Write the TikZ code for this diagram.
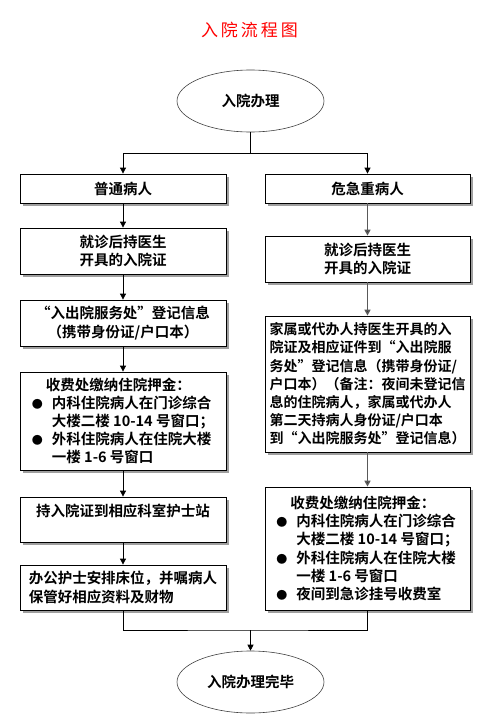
\documentclass[tikz,border=0pt]{standalone}
\usepackage{fontspec}
\setmainfont{Noto Sans CJK SC}[BoldFont={* Bold}]
\newfontfamily\titlefont{Noto Sans CJK SC}
\usetikzlibrary{arrows.meta,shapes.geometric,shadows}
\newcommand{\bdot}{\makebox[20pt][l]{\fontsize{11}{11}\selectfont●}}
\newcommand{\bgap}{\hspace*{20pt}}
\begin{document}
\begin{tikzpicture}[x=1pt,y=-1pt,
  every node/.style={font=\fontsize{14.5}{18.2}\selectfont\bfseries},
  box/.style={draw, line width=0.8pt, fill=white, minimum width=206, inner sep=0pt,
    drop shadow={shadow xshift=3pt, shadow yshift=-3pt, fill=gray!75, opacity=1}},
  oval/.style={ellipse, draw=black!75, line width=0.6pt, minimum width=147, minimum height=62, inner sep=0pt},
  arr/.style={line width=0.8pt, -{Triangle[width=6pt,length=6pt]}},
  garr/.style={arr, draw=gray!70!black, line width=1.5pt, -{Triangle[width=6pt,length=6pt,fill=black]}}]
\useasboundingbox (0,0) rectangle (497,726);
\node[font=\fontsize{17}{20}\titlefont, text=red] (title) at (249.5,30) {入\hspace{3pt}院\hspace{3pt}流\hspace{3pt}程\hspace{3pt}图};
\node[oval] (start) at (250.5,101) {入院办理};
% left column: ordinary patients
\node[box, minimum height=29] (l1) at (123,188.5) {普通病人};
\node[box, minimum height=46, align=center] (l2) at (123,251) {就诊后持医生\\开具的入院证};
\node[box, minimum height=46, align=center] (l3) at (123,323) {“入出院服务处”登记信息\\（携带身份证/户口本）};
\node[box, minimum height=98, align=left] (l4) at (123,421) {\hspace*{14pt}收费处缴纳住院押金：\\
  \bdot 内科住院病人在门诊综合\\ \bgap 大楼二楼 10-14 号窗口；\\
  \bdot 外科住院病人在住院大楼\\ \bgap 一楼 1-6 号窗口};
\node[box, minimum height=45, align=center] (l5) at (123,519.5) {持入院证到相应科室护士站\\ \mbox{}};
\node[box, minimum height=45, align=left] (l6) at (123,587.5) {办公护士安排床位，并嘱病人\\保管好相应资料及财物};
% right column: critical patients
\node[box, minimum width=205, minimum height=29] (r1) at (367.5,188.5) {危急重病人};
\node[box, minimum width=205, minimum height=46, align=center] (r2) at (367.5,259) {就诊后持医生\\开具的入院证};
\node[box, minimum width=205, minimum height=136, align=left, font=\fontsize{14}{18.2}\selectfont\bfseries] (r3) at (367.5,384) {家属或代办人持医生开具的入\\院证及相应证件到“入出院服\\务处”登记信息（携带身份证/\\户口本）（备注：夜间未登记信\\息的住院病人，家属或代办人\\第二天持病人身份证/户口本\\到“入出院服务处”登记信息）};
\node[box, minimum width=205, minimum height=123, align=left] (r4) at (367.5,548.5) {\hspace*{14pt}收费处缴纳住院押金：\\
  \bdot 内科住院病人在门诊综合\\ \bgap 大楼二楼 10-14 号窗口；\\
  \bdot 外科住院病人在住院大楼\\ \bgap 一楼 1-6 号窗口\\
  \bdot 夜间到急诊挂号收费室};
\node[oval] (stop) at (250.5,682) {入院办理完毕};
% connectors
\draw[line width=0.8pt] (start.south) -- (250.5,153) coordinate (split);
\draw[arr] (split) -| (l1);
\draw[arr] (split) -| (r1);
\foreach \a/\b in {l1/l2,l2/l3,l3/l4,l4/l5,l5/l6} \draw[arr] (\a) -- (\b);
\foreach \a/\b in {r1/r2,r2/r3,r3/r4} \draw[garr] (\a) -- (\b);
\coordinate (join) at (250.5,630);
\draw[line width=0.8pt] (l6.south) |- (join) -| (r4.south);
\draw[arr] (join) -- (stop);
\end{tikzpicture}
\end{document}
